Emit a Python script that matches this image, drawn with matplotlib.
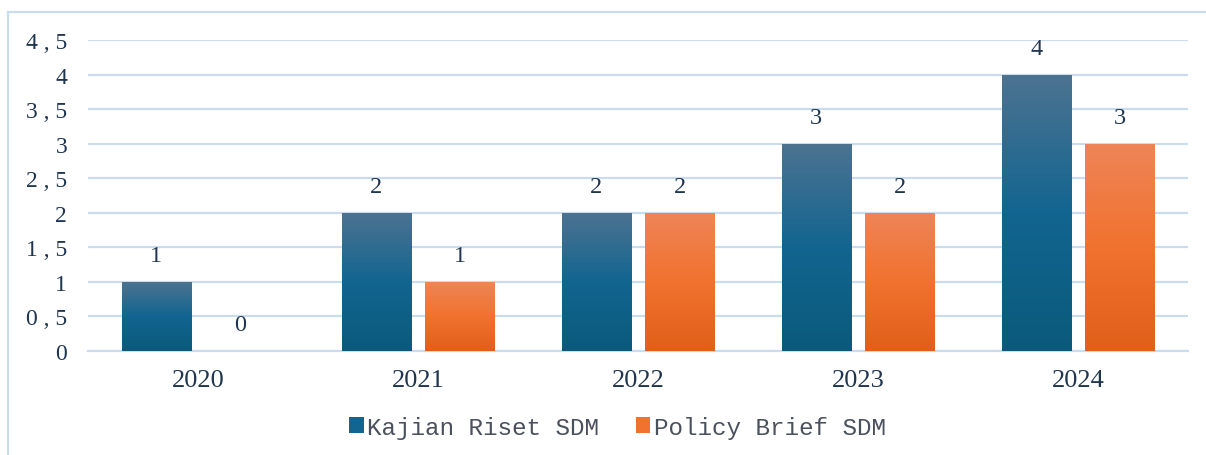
import matplotlib.pyplot as plt
import numpy as np
from matplotlib.colors import LinearSegmentedColormap
from matplotlib.lines import Line2D

# data
years = ["2020", "2021", "2022", "2023", "2024"]
kajian = [1, 2, 2, 3, 4]
policy = [0, 1, 2, 2, 3]
series_names = ["Kajian Riset SDM", "Policy Brief SDM"]
ytick_vals = [0, 0.5, 1, 1.5, 2, 2.5, 3, 3.5, 4, 4.5]
ytick_labels = ["0", "0 , 5", "1", "1 , 5", "2", "2 , 5", "3", "3 , 5", "4", "4 , 5"]

blue_grad = LinearSegmentedColormap.from_list("b", ["#0b5a7c", "#126590", "#4d7391"])
orange_grad = LinearSegmentedColormap.from_list("o", ["#e0601a", "#f1722e", "#ee8558"])

txt = "#1f3550"
grid_c = "#c9dcf0"

fig = plt.figure(figsize=(12.06, 4.56), dpi=100)
ax = fig.add_axes([0.073, 0.2281, 0.912, 0.6820])

x = np.arange(len(years))
w = 0.314
off = 0.19
b1 = ax.bar(x - off, kajian, w, color="#126590", label=series_names[0], zorder=3)
b2 = ax.bar(x + off, policy, w, color="#f1722e", label=series_names[1], zorder=3)

# gradient fill clipped to each bar
grad = np.linspace(0, 1, 256).reshape(-1, 1)
for bars, cmap in [(b1, blue_grad), (b2, orange_grad)]:
    for p in bars:
        h = p.get_height()
        if h <= 0:
            continue
        x0 = p.get_x()
        im = ax.imshow(grad, cmap=cmap, origin="lower", aspect="auto",
                       extent=[x0, x0 + p.get_width(), 0, h], zorder=4)
        im.set_clip_path(p)
ax.set_xlim(-0.5, len(years) - 0.5)
ax.set_ylim(0, 4.5)

# value labels
for bars, vals in [(b1, kajian), (b2, policy)]:
    for p, v in zip(bars, vals):
        ax.annotate(str(v), (p.get_x() + p.get_width() / 2, v),
                    xytext=(0, 19), textcoords="offset points",
                    ha="center", va="center", fontsize=17.5,
                    family="Liberation Serif", color=txt, zorder=5)

ax.set_yticks(ytick_vals)
ax.set_yticklabels(ytick_labels, family="Liberation Serif", fontsize=17, color=txt)
ax.set_xticks(x)
ax.set_xticklabels(years, family="Liberation Serif", fontsize=19, color=txt)
ax.tick_params(axis="y", length=0, pad=15)
ax.tick_params(axis="x", length=0, pad=13)

ax.yaxis.grid(True, color=grid_c, linewidth=1.6, zorder=0)
ax.set_axisbelow(True)
for s in ["top", "right", "left"]:
    ax.spines[s].set_visible(False)
ax.spines["bottom"].set_color(grid_c)
ax.spines["bottom"].set_linewidth(1.6)

leg = fig.legend(handles=[b1, b2], loc="center", bbox_to_anchor=(0.512, 0.061),
                 ncol=2, frameon=False, handlelength=0.6, handleheight=0.6,
                 handletextpad=0.15, columnspacing=1.5,
                 prop={"family": "Liberation Mono", "size": 17.5})
for t in leg.get_texts():
    t.set_color("#4a505c")

# outer border (top and left visible)
fig.add_artist(Line2D([8 / 1206, 1.0], [1 - 13 / 456, 1 - 13 / 456],
                      transform=fig.transFigure, color=grid_c, linewidth=1.6))
fig.add_artist(Line2D([8 / 1206, 8 / 1206], [0, 1 - 13 / 456],
                      transform=fig.transFigure, color=grid_c, linewidth=1.6))

fig.savefig("out.png", dpi=100)
